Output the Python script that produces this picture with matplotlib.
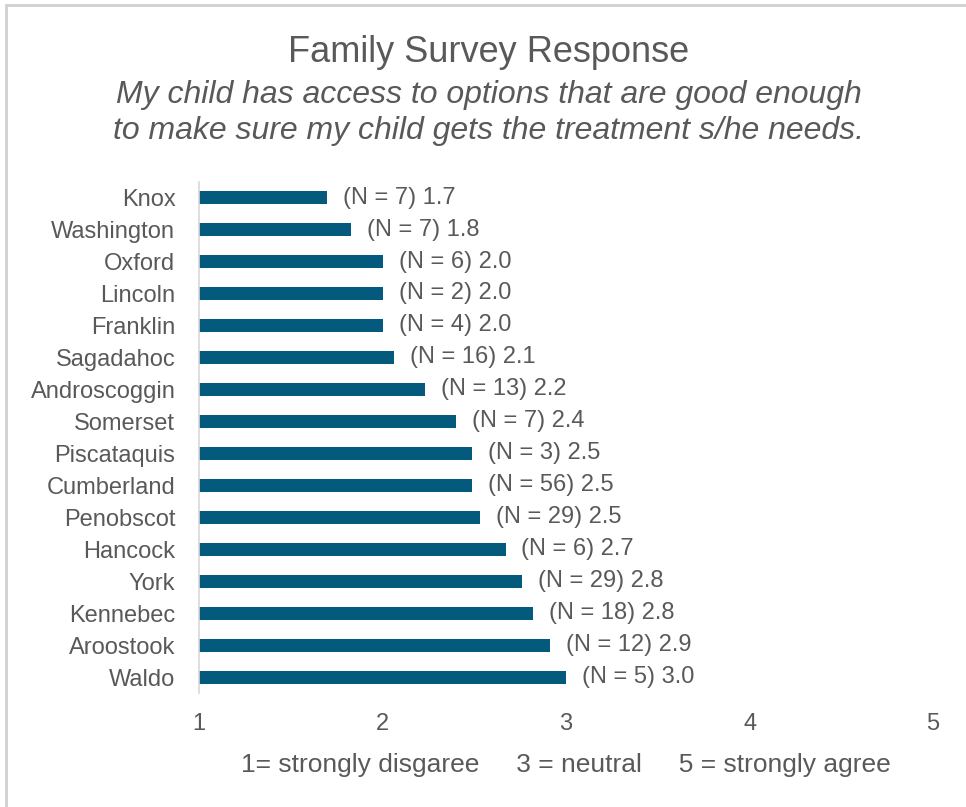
import matplotlib
matplotlib.use("Agg")
from matplotlib import pyplot as plt
from matplotlib.patches import Rectangle

counties = ['Knox', 'Washington', 'Oxford', 'Lincoln', 'Franklin', 'Sagadahoc',
            'Androscoggin', 'Somerset', 'Piscataquis', 'Cumberland', 'Penobscot',
            'Hancock', 'York', 'Kennebec', 'Aroostook', 'Waldo']
means = [1.70, 1.83, 2.00, 2.00, 2.00, 2.06, 2.23, 2.40, 2.49, 2.49, 2.53,
         2.67, 2.76, 2.82, 2.91, 3.00]
ns = [7, 7, 6, 2, 4, 16, 13, 7, 3, 56, 29, 6, 29, 18, 12, 5]
xticks = [1, 2, 3, 4, 5]

bar_color = '#045A7D'
text_color = '#595959'
plt.rcParams['font.family'] = ['Liberation Sans', 'DejaVu Sans']

fig = plt.figure(figsize=(9.66, 8.07), dpi=100)
ax = fig.add_axes([0.206, 0.141, 0.760, 0.634])

ypos = list(range(len(counties)))
ax.barh(ypos, [m - 1 for m in means], left=1, height=0.42, color=bar_color)
for y, m, n in zip(ypos, means, ns):
    ax.text(m + 0.087, y, f'(N = {n}) {m:.1f}', va='center', ha='left',
            fontsize=17, color=text_color)

ax.set_xlim(1, 5)
ax.set_ylim(len(counties) - 0.5, -0.5)
ax.set_yticks(ypos)
ax.set_yticklabels(counties)
ax.set_xticks(xticks)
ax.tick_params(axis='both', length=0, labelsize=17, labelcolor=text_color)
ax.tick_params(axis='y', pad=17)
ax.tick_params(axis='x', pad=14)
for s in ['top', 'right', 'bottom']:
    ax.spines[s].set_visible(False)
ax.spines['left'].set_color('#D9D9D9')
ax.spines['left'].set_linewidth(1.2)

fig.text(0.506, 0.935, 'Family Survey Response', ha='center', va='center',
         fontsize=26, color=text_color)
fig.text(0.506, 0.860, 'My child has access to options that are good enough\n'
         'to make sure my child gets the treatment s/he needs.',
         ha='center', va='center', fontsize=23, style='italic',
         color=text_color, linespacing=1.28)
fig.text(0.586, 0.052, '1= strongly disgaree     3 = neutral     5 = strongly agree',
         ha='center', va='center', fontsize=19, color=text_color)

fig.patches.append(Rectangle((0.006, -0.01), 1.0, 1.004, transform=fig.transFigure,
                             fill=False, edgecolor='#D0D0D0', linewidth=2))

fig.savefig('out.png', dpi=100, facecolor='white')
